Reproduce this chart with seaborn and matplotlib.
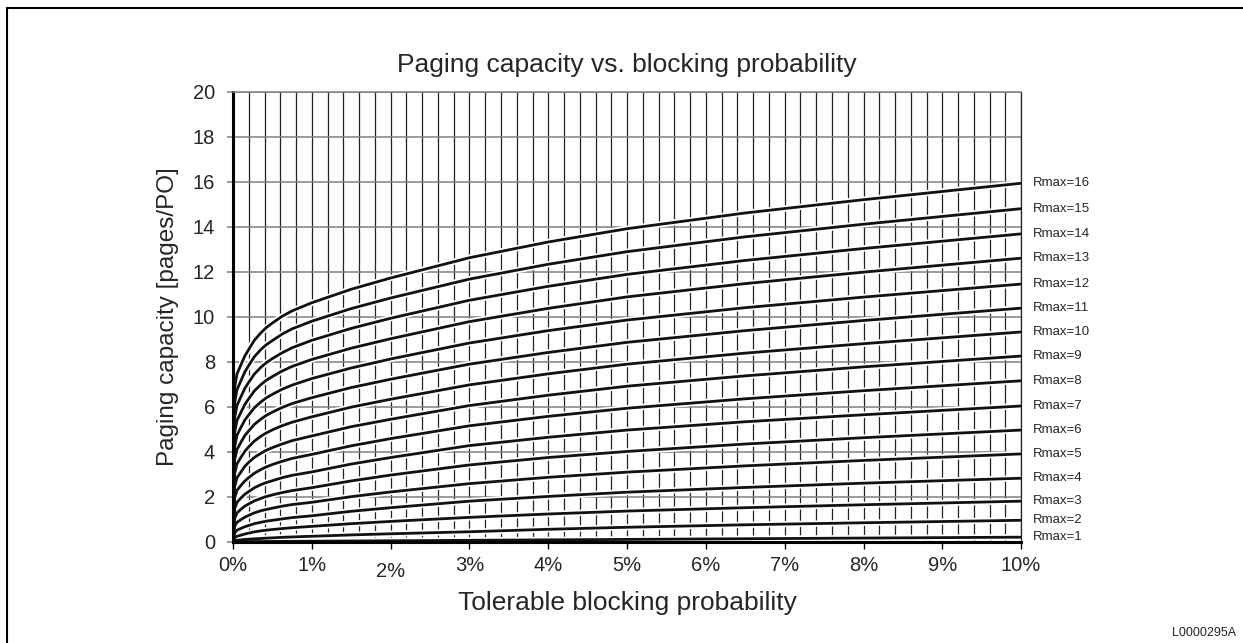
"""
Paging capacity vs. tolerable blocking probability, one curve per Rmax.
Values read off the reference chart by eye.
"""

import numpy as np
import pandas as pd

import matplotlib
matplotlib.use('Agg')
import matplotlib.pyplot as plt
import matplotlib as mpl
from matplotlib.ticker import MultipleLocator, FixedLocator
from matplotlib.lines import Line2D
from matplotlib.transforms import ScaledTranslation

import seaborn as sns

# blocking probability (%) where each curve was read
blockPct = [0, 0.02, 0.05, 0.1, 0.15, 0.2, 0.27, 0.35, 0.42, 0.5, 0.62, 0.75,
            1, 1.5, 2, 3, 4, 5, 6.5, 8, 10]

# paging capacity [pages/PO] per Rmax
rmax1 = [0, 0, 0.001, 0.002, 0.003, 0.004, 0.005, 0.007, 0.008, 0.01, 0.012, 0.015,
         0.02, 0.03, 0.04, 0.06, 0.08, 0.10, 0.13, 0.16, 0.20]
rmax2 = [0, 0.03, 0.06, 0.08, 0.097, 0.11, 0.127, 0.14, 0.156, 0.17, 0.191, 0.21,
         0.24, 0.30, 0.35, 0.44, 0.55, 0.64, 0.75, 0.84, 0.95]
rmax3 = [0, 0.17, 0.24, 0.29, 0.34, 0.38, 0.435, 0.48, 0.51, 0.54, 0.58, 0.62,
         0.68, 0.80, 0.90, 1.08, 1.23, 1.36, 1.51, 1.64, 1.80]
rmax4 = [0, 0.38, 0.51, 0.59, 0.665, 0.72, 0.80, 0.86, 0.91, 0.95, 1.01, 1.07,
         1.15, 1.35, 1.51, 1.80, 2.01, 2.20, 2.41, 2.60, 2.82]
rmax5 = [0, 0.68, 0.86, 0.98, 1.09, 1.17, 1.28, 1.37, 1.43, 1.49, 1.575, 1.65,
         1.75, 2.00, 2.21, 2.58, 2.86, 3.09, 3.37, 3.61, 3.90]
rmax6 = [0, 1.03, 1.28, 1.44, 1.58, 1.68, 1.81, 1.92, 2.005, 2.08, 2.18, 2.27,
         2.40, 2.70, 2.96, 3.41, 3.74, 4.01, 4.34, 4.62, 4.96]
rmax7 = [0, 1.46, 1.75, 1.94, 2.11, 2.23, 2.395, 2.53, 2.625, 2.71, 2.84, 2.95,
         3.10, 3.45, 3.74, 4.27, 4.64, 4.96, 5.33, 5.64, 6.03]
rmax8 = [0, 1.94, 2.28, 2.50, 2.70, 2.85, 3.04, 3.20, 3.32, 3.43, 3.57, 3.70,
         3.88, 4.26, 4.58, 5.15, 5.57, 5.93, 6.35, 6.71, 7.15]
rmax9 = [0, 2.44, 2.84, 3.10, 3.35, 3.53, 3.745, 3.92, 4.06, 4.18, 4.34, 4.49,
         4.70, 5.11, 5.44, 6.05, 6.51, 6.91, 7.37, 7.77, 8.25]
rmax10 = [0, 3.02, 3.46, 3.75, 4.02, 4.22, 4.47, 4.68, 4.83, 4.97, 5.15, 5.31,
          5.55, 5.98, 6.33, 6.97, 7.46, 7.89, 8.38, 8.80, 9.32]
rmax11 = [0, 3.62, 4.10, 4.42, 4.72, 4.93, 5.21, 5.44, 5.61, 5.76, 5.96, 6.14,
          6.40, 6.85, 7.22, 7.89, 8.41, 8.86, 9.38, 9.83, 10.38]
rmax12 = [0, 4.21, 4.73, 5.08, 5.41, 5.64, 5.95, 6.20, 6.39, 6.55, 6.77, 6.96,
          7.25, 7.72, 8.12, 8.83, 9.38, 9.85, 10.40, 10.87, 11.45]
rmax13 = [0, 4.86, 5.39, 5.75, 6.10, 6.36, 6.70, 6.97, 7.17, 7.34, 7.58, 7.79,
          8.10, 8.60, 9.02, 9.78, 10.37, 10.88, 11.47, 11.98, 12.60]
rmax14 = [0, 5.50, 6.06, 6.44, 6.82, 7.09, 7.45, 7.74, 7.95, 8.14, 8.39, 8.62,
          8.95, 9.48, 9.93, 10.73, 11.35, 11.88, 12.50, 13.03, 13.68]
rmax15 = [0, 6.17, 6.76, 7.15, 7.55, 7.84, 8.22, 8.53, 8.75, 8.94, 9.22, 9.46,
          9.80, 10.36, 10.83, 11.67, 12.33, 12.89, 13.55, 14.11, 14.80]
rmax16 = [0, 6.85, 7.46, 7.86, 8.26, 8.55, 8.95, 9.27, 9.51, 9.72, 10.01, 10.26,
          10.62, 11.22, 11.72, 12.62, 13.32, 13.91, 14.61, 15.20, 15.93]

rmaxNames = ['Rmax=%d' % i for i in range(1, 17)]
curves = [rmax1, rmax2, rmax3, rmax4, rmax5, rmax6, rmax7, rmax8,
          rmax9, rmax10, rmax11, rmax12, rmax13, rmax14, rmax15, rmax16]

xTicks = [0, 1, 2, 3, 4, 5, 6, 7, 8, 9, 10]
xTickLabels = ['0%', '1%', '2%', '3%', '4%', '5%', '6%', '7%', '8%', '9%', '10%']
yTicks = [0, 2, 4, 6, 8, 10, 12, 14, 16, 18, 20]

def makeLongDf():
    """one row per (curve, point) for seaborn"""
    rows = []
    for name, curve in zip(rmaxNames, curves):
        for x, y in zip(blockPct, curve):
            rows.append({'Rmax': name, 'block': x, 'capacity': y})
    return pd.DataFrame(rows)

if __name__ == '__main__':

    sns.set_theme(style='white')
    mpl.rcParams['font.family'] = ['Liberation Sans', 'DejaVu Sans']

    df = makeLongDf()

    fig = plt.figure(figsize=(12.43, 6.43), dpi=100)
    ax = fig.add_axes([0.1875, 0.1576, 0.634, 0.6998])

    # white halo first (breaks the grid around each curve), then the black curves
    sns.lineplot(ax=ax, data=df, x='block', y='capacity', hue='Rmax',
                 palette=['white'] * len(curves), estimator=None, sort=False,
                 legend=False, lw=4.5)
    sns.lineplot(ax=ax, data=df, x='block', y='capacity', hue='Rmax',
                 palette=['#111111'] * len(curves), estimator=None, sort=False,
                 legend=False, lw=2.0)

    # curve labels at the right end
    for name, curve in zip(rmaxNames, curves):
        ax.annotate(name, xy=(blockPct[-1], curve[-1]), xytext=(8.5, 0),
                    textcoords='offset points', va='center', ha='left',
                    fontsize=9.5, annotation_clip=False)

    ax.set_xlim(0, 10)
    ax.set_ylim(0, 20)
    ax.xaxis.set_major_locator(FixedLocator(xTicks))
    ax.set_xticklabels(xTickLabels)
    ax.xaxis.set_minor_locator(MultipleLocator(0.2))
    ax.set_yticks(yTicks)

    ax.set_axisbelow(True)
    ax.grid(axis='y', color='#808080', lw=1.1)
    ax.grid(axis='x', which='both', color='#222222', lw=0.9)

    ax.tick_params(axis='y', left=True, length=4, width=1.1, color='#808080',
                   pad=9, labelsize=14.5)
    ax.tick_params(axis='x', which='major', bottom=True, length=5, width=1.0,
                   color='black', pad=5.5, labelsize=14.5)
    ax.tick_params(axis='x', which='minor', bottom=False, length=0)

    for side in ['left', 'bottom']:
        ax.spines[side].set_color('black')
        ax.spines[side].set_linewidth(2.2)
    ax.spines['right'].set_color('#222222')
    ax.spines['right'].set_linewidth(0.9)
    ax.spines['top'].set_color('#808080')
    ax.spines['top'].set_linewidth(1.1)

    ax.set_title('Paging capacity vs. blocking probability', fontsize=19, pad=14)
    ax.set_xlabel('Tolerable blocking probability', fontsize=19, labelpad=7)
    ax.set_ylabel('Paging capacity [pages/PO]', fontsize=17.5, labelpad=10)

    # the 2% label sits a little lower in the original
    fig.canvas.draw()
    lab = ax.get_xticklabels()[2]
    lab.set_transform(lab.get_transform() + ScaledTranslation(0, -4 / 72, fig.dpi_scale_trans))

    # partial frame around the figure
    fig.add_artist(Line2D([7 / 1243, 1], [1 - 8 / 643, 1 - 8 / 643],
                          transform=fig.transFigure, color='black', lw=1.5))
    fig.add_artist(Line2D([7 / 1243, 7 / 1243], [0, 1 - 8 / 643],
                          transform=fig.transFigure, color='black', lw=1.5))

    fig.text(1236 / 1243, 4 / 643, 'L0000295A', ha='right', va='bottom', fontsize=9)

    fig.savefig('out.png', dpi=100)
